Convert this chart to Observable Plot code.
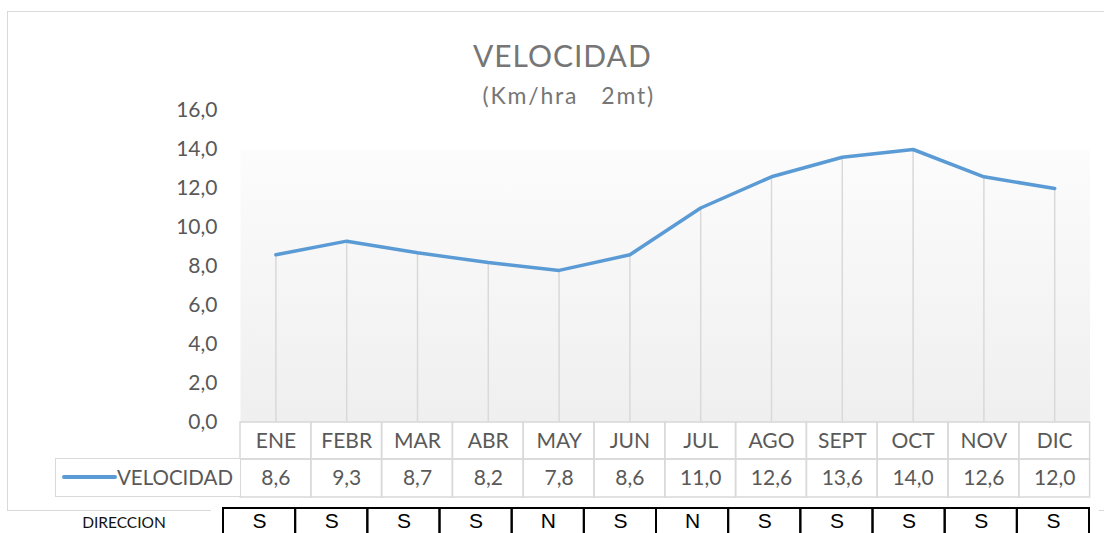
<!DOCTYPE html>
<html><head><meta charset="utf-8">
<script src="https://cdn.jsdelivr.net/npm/d3@7"></script>
<script src="https://cdn.jsdelivr.net/npm/@observablehq/plot@0.6"></script>
<style>
body{margin:0;background:#fff;}
#wrap{position:relative;width:1104px;height:533px;overflow:hidden;font-family:Lato,sans-serif;background:#fff;}
#chart{position:absolute;left:0;top:0;}
#border{position:absolute;left:7px;top:11px;width:1130px;height:500px;border:1.5px solid #d9d9d9;box-sizing:border-box;pointer-events:none;}
#legend{position:absolute;left:55px;top:458px;width:186px;height:39px;border:1.5px solid #d9d9d9;box-sizing:border-box;background:#fff;}
#swatch{position:absolute;left:5.5px;top:16px;width:55px;height:3.5px;background:#5b9bd5;border-radius:2px;}
#legtext{position:absolute;right:7px;top:0;line-height:36px;font-size:20.5px;color:#595959;}
#dir{position:absolute;left:211px;top:505px;width:888px;height:28px;overflow:hidden;background:#fff;}
#dirlabel{position:absolute;left:60px;width:128px;text-align:center;top:511px;font-size:15.5px;line-height:22px;color:#111;}
</style>
</head><body>
<div id="wrap">
  <div id="chart"></div>
  <div id="border"></div>
  <div id="legend"><div id="swatch"></div><div id="legtext"></div></div>
  <div id="dirlabel"></div>
  <div id="dir"></div>
</div>
<script>
const months = ["ENE","FEBR","MAR","ABR","MAY","JUN","JUL","AGO","SEPT","OCT","NOV","DIC"];
const velocidad = [8.6, 9.3, 8.7, 8.2, 7.8, 8.6, 11.0, 12.6, 13.6, 14.0, 12.6, 12.0];
const direccion = ["S","S","S","S","N","S","N","S","S","S","S","S"];
const yTicks = [0, 2, 4, 6, 8, 10, 12, 14, 16];
const titleText = "VELOCIDAD";
const subtitleText = "(Km/hra\u00a0\u00a0\u00a02mt)";
const seriesName = "VELOCIDAD";
const rowLabel = "DIRECCION";

const data = months.map((m, i) => ({month: m, value: velocidad[i], dir: direccion[i]}));
const fmt = v => v.toFixed(1).replace(".", ",");

const chart = Plot.plot({
  width: 1104, height: 533,
  marginLeft: 240, marginRight: 14.4, marginTop: 110, marginBottom: 111,
  style: {fontFamily: "Lato, sans-serif", fontSize: "21px", color: "#595959", background: "transparent", overflow: "visible"},
  x: {type: "band", domain: months, padding: 0, round: false, tickSize: 0, tickPadding: 11, label: null},
  y: {domain: [0, 16], ticks: yTicks, tickFormat: fmt, tickSize: 0, tickPadding: 23, label: null},
  marks: [
    Plot.frame({fill: "url(#velBg)", stroke: "none"}),
    Plot.cell(months, {x: d => d, fill: "none", stroke: "#d9d9d9", strokeWidth: 1.5, inset: 0, insetTop: 275, dy: 37}),
    Plot.cell(months, {x: d => d, fill: "none", stroke: "#d9d9d9", strokeWidth: 1.5, inset: 0, insetTop: 274, dy: 75}),
    Plot.ruleX(data, {x: "month", y: "value", stroke: "#d9d9d9", strokeWidth: 1.5}),
    Plot.line(data, {x: "month", y: "value", stroke: "#5b9bd5", strokeWidth: 3.5, strokeLinejoin: "round", strokeLinecap: "round"}),
    Plot.text(data, {x: "month", text: d => fmt(d.value), frameAnchor: "bottom", lineAnchor: "middle", dy: 56, fill: "#595959"}),
    Plot.text([titleText], {frameAnchor: "top", lineAnchor: "middle", dx: -103, dy: -53, fontSize: 30, fill: "#767676"}),
    Plot.text([subtitleText], {frameAnchor: "top", lineAnchor: "middle", dx: -96.5, dy: -13.5, fontSize: 23, fill: "#767676"})
  ]
});
const defs = d3.select(chart).insert("defs", ":first-child");
const g = defs.append("linearGradient").attr("id", "velBg").attr("x1", 0).attr("y1", 0).attr("x2", 0).attr("y2", 1);
[[0, "#ffffff"], [0.128, "#ffffff"], [0.128, "#fcfcfc"], [1, "#efefef"]].forEach(([o, c]) =>
  g.append("stop").attr("offset", o).attr("stop-color", c));
d3.select(chart).selectAll("text").each(function() {
  const t = this.textContent;
  if (t === titleText) this.style.letterSpacing = "1px";
  if (t === subtitleText) this.style.letterSpacing = "1.8px";
});
document.getElementById("chart").appendChild(chart);

document.getElementById("legtext").textContent = seriesName;
document.getElementById("dirlabel").textContent = rowLabel;

const dirChart = Plot.plot({
  width: 888, height: 40,
  marginLeft: 12, marginRight: 10, marginTop: 3, marginBottom: 0,
  style: {fontFamily: "'Liberation Sans', Arial, sans-serif", fontSize: "21px", color: "#000", background: "white"},
  x: {type: "band", domain: months, padding: 0, round: false, axis: null},
  marks: [
    Plot.cell(data, {x: "month", fill: "none", stroke: "#000", strokeWidth: 2, inset: 0}),
    Plot.text(data, {x: "month", text: "dir", frameAnchor: "top", lineAnchor: "middle", dy: 13, fill: "#000"})
  ]
});
document.getElementById("dir").appendChild(dirChart);
</script>
</body></html>
